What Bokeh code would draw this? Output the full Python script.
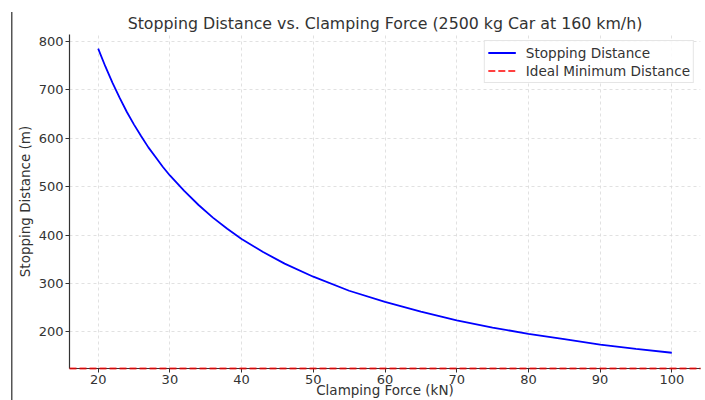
from bokeh.plotting import figure
from bokeh.models import Range1d, Legend, LegendItem, ColumnDataSource
from bokeh.embed import file_html
from bokeh.resources import INLINE

# Data
force_kn = [20, 21, 22, 23, 24, 25, 26, 27, 28, 29, 30, 32, 34, 36, 38, 40, 43, 46,
            50, 55, 60, 65, 70, 75, 80, 85, 90, 95, 100]
stopping_m = [785, 748, 714, 683, 654, 628, 604, 581, 561, 541, 523, 491, 462, 436, 413,
              392, 365, 341, 314, 285, 262, 242, 224, 209, 196, 185, 174, 165, 157]
ideal_min_m = [125]
x_ticks = [20, 30, 40, 50, 60, 70, 80, 90, 100]
y_ticks = [200, 300, 400, 500, 600, 700, 800]

FONT = "DejaVu Sans"
TXT = "#333333"

p = figure(width=705, height=400, output_backend="svg", toolbar_location=None,
           x_range=Range1d(16, 104), y_range=Range1d(124.5, 814),
           min_border_left=69, min_border_right=5, min_border_top=34, min_border_bottom=31)
p.outline_line_color = None
p.background_fill_color = "white"
p.border_fill_color = None
p.styles = {
    "background-color": "white",
    "background-image": "linear-gradient(90deg, #555555, #555555)",
    "background-repeat": "no-repeat",
    "background-position": "11px 12px",
    "background-size": "1.5px 388px",
}

p.title.text = "Stopping Distance vs. Clamping Force (2500 kg Car at 160 km/h)"
p.title.align = "center"
p.title.text_font = FONT
p.title.text_font_size = "15.8px"
p.title.text_font_style = "normal"
p.title.text_color = TXT
p.title.standoff = 4

src = ColumnDataSource(dict(x=force_kn, y=stopping_m))
r_main = p.line("x", "y", source=src, line_color="blue", line_width=1.8)
r_ideal = p.hspan(y=ideal_min_m, line_color="red", line_alpha=0.75,
                  line_dash="7 3", line_width=1.8, level="overlay")

for ax in (p.xaxis, p.yaxis):
    ax.axis_line_color = "#333333"
    ax.axis_line_width = 1.2
    ax.major_tick_line_color = "#333333"
    ax.major_tick_out = 4
    ax.major_tick_in = 0
    ax.minor_tick_line_color = None
    ax.major_label_text_font = FONT
    ax.major_label_text_font_size = "13px"
    ax.major_label_text_color = TXT
    ax.major_label_standoff = 2
    ax.axis_label_text_font = FONT
    ax.axis_label_text_font_size = "13.5px"
    ax.axis_label_text_font_style = "normal"
    ax.axis_label_text_color = TXT

p.xaxis.ticker = x_ticks
p.yaxis.ticker = y_ticks
p.xaxis.axis_label = "Clamping Force (kN)"
p.yaxis.axis_label = "Stopping Distance (m)"
p.xaxis.axis_label_standoff = -5
p.yaxis.axis_label_standoff = 3

p.grid.grid_line_color = "#d9d9d9"
p.grid.grid_line_dash = "3 3"
p.grid.grid_line_width = 0.8
p.xgrid.ticker = x_ticks
p.ygrid.ticker = y_ticks

legend = Legend(items=[LegendItem(label="Stopping Distance", renderers=[r_main]),
                       LegendItem(label="Ideal Minimum Distance", renderers=[r_ideal])],
                location="top_right")
legend.label_text_font = FONT
legend.label_text_font_size = "13.6px"
legend.label_text_color = TXT
legend.border_line_color = "#cccccc"
legend.border_line_width = 1
legend.background_fill_alpha = 0.85
legend.glyph_width = 28
legend.glyph_height = 17
legend.label_height = 17
legend.label_standoff = 10
legend.spacing = 1
legend.padding = 3
legend.margin = 6
p.add_layout(legend)

open("out.html", "w").write(file_html(p, INLINE))
